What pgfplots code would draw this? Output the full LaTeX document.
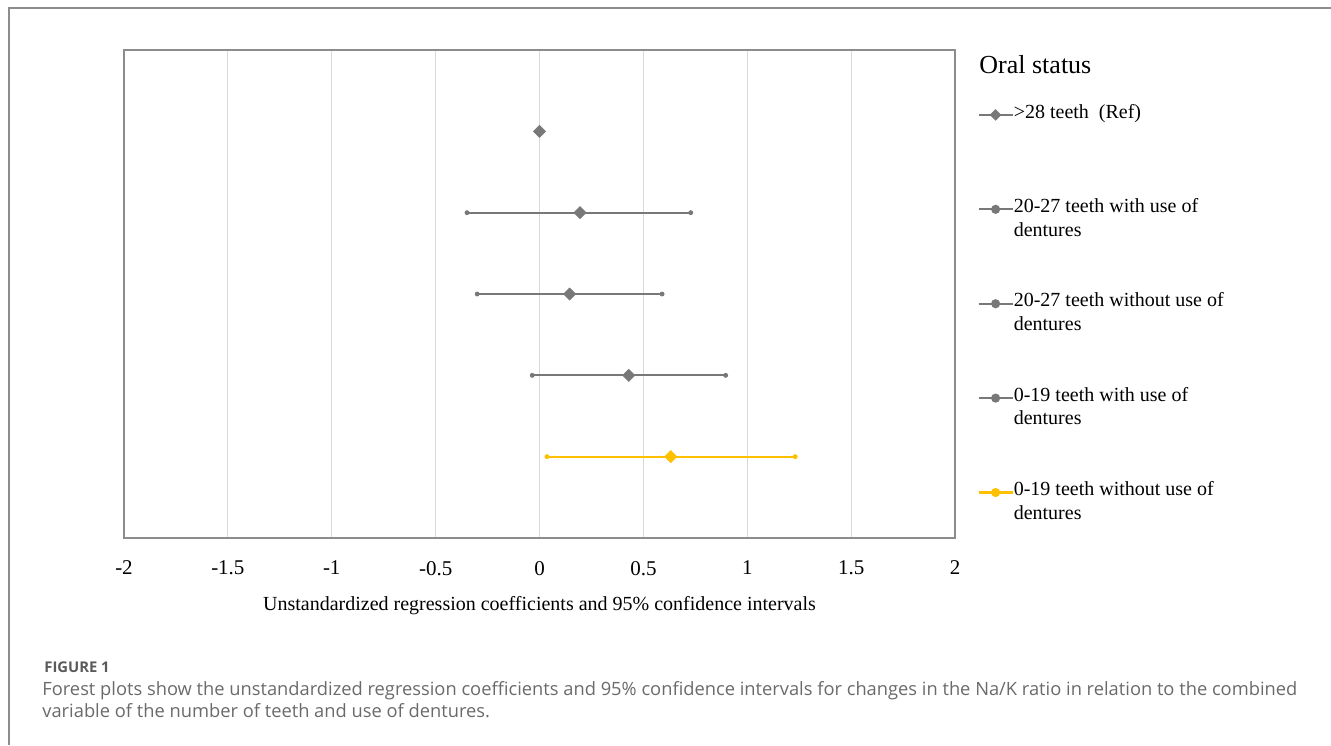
\documentclass[border=0pt]{standalone}
\usepackage{pgfplots}
\pgfplotsset{compat=1.18}
\usepackage{pgfplotstable}
\usepackage{fontspec}
\setmainfont{Liberation Serif}
\newfontfamily\capfont{Open Sans}
\definecolor{gry}{HTML}{787878}
\definecolor{gold}{HTML}{FFC000}
\definecolor{gridc}{HTML}{D9D9D9}
\definecolor{framec}{HTML}{8C8C8C}
\definecolor{capc}{HTML}{6A6A6A}

\pgfplotstableread{
y x em ep
4 0.195 0.544 0.533
3 0.145 0.445 0.445
2 0.430 0.465 0.466
}\graydata
\pgfplotstableread{
y x em ep
1 0.632 0.596 0.599
}\golddata

\begin{document}
\begin{tikzpicture}
\path[use as bounding box] (0,0) rectangle (665.5pt,-372.5pt);
\begin{axis}[
  at={(62pt,-269pt)}, anchor=south west,
  scale only axis, width=415.5pt, height=244pt,
  xmin=-2, xmax=2, ymin=0, ymax=6,
  xtick={-2,-1.5,-1,-0.5,0,0.5,1,1.5,2},
  xticklabels={-2,-1.5,-1,-0.5,0,0.5,1,1.5,2},
  ytick=\empty,
  major tick length=0pt,
  xmajorgrids, grid style={gridc, line width=0.6pt},
  axis line style={framec, line width=0.6pt},
  xticklabel style={font=\fontsize{10.5}{12}\selectfont, yshift=-8pt},
  xlabel={Unstandardized regression coefficients and 95\% confidence intervals},
  x label style={at={(axis description cs:0.5,-0.1393)}, anchor=center, font=\fontsize{10}{12}\selectfont},
  clip=false,
  legend style={at={(axis description cs:1.0265,0.892)}, anchor=north west,
    draw=none, fill=none, inner sep=0pt, row sep=0pt,
    font=\fontsize{10}{12}\selectfont,
    nodes={inner sep=0pt, text height=7.5pt, text depth=4.3pt}},
  legend cell align=left,
]
\addplot[forget plot, only marks, mark=square*, mark size=2.1pt,
  mark options={rotate=45, fill=gry, draw=gry}] coordinates {(0,5)};
\addplot[forget plot, only marks, mark=square*, mark size=2.1pt,
  mark options={rotate=45, fill=gry, draw=gry},
  error bars/.cd, x dir=both, x explicit,
  error bar style={line width=1.1pt, gry},
  error mark=*, error mark options={mark size=1pt, fill=gry, draw=gry}]
  table[x=x, y=y, x error minus=em, x error plus=ep] {\graydata};
\addplot[forget plot, only marks, mark=square*, mark size=2.1pt,
  mark options={rotate=45, fill=gold, draw=gold},
  error bars/.cd, x dir=both, x explicit,
  error bar style={line width=1.1pt, gold},
  error mark=*, error mark options={mark size=1pt, fill=gold, draw=gold}]
  table[x=x, y=y, x error minus=em, x error plus=ep] {\golddata};

\addlegendimage{gry, line width=1.1pt, mark=square*, mark size=1.5pt, mark options={rotate=45}}
\addlegendentry{>28 teeth\ \ (Ref)}
\addlegendimage{empty legend}\addlegendentry{}
\addlegendimage{empty legend}\addlegendentry{}
\addlegendimage{empty legend}\addlegendentry{}
\addlegendimage{gry, line width=1.1pt, mark=*, mark size=1.7pt}
\addlegendentry{20-27 teeth with use of}
\addlegendimage{empty legend}\addlegendentry{dentures}
\addlegendimage{empty legend}\addlegendentry{}
\addlegendimage{empty legend}\addlegendentry{}
\addlegendimage{gry, line width=1.1pt, mark=*, mark size=1.7pt}
\addlegendentry{20-27 teeth without use of}
\addlegendimage{empty legend}\addlegendentry{dentures}
\addlegendimage{empty legend}\addlegendentry{}
\addlegendimage{empty legend}\addlegendentry{}
\addlegendimage{gry, line width=1.1pt, mark=*, mark size=1.7pt}
\addlegendentry{0-19 teeth with use of}
\addlegendimage{empty legend}\addlegendentry{dentures}
\addlegendimage{empty legend}\addlegendentry{}
\addlegendimage{empty legend}\addlegendentry{}
\addlegendimage{gold, line width=1.1pt, mark=*, mark size=1.7pt}
\addlegendentry{0-19 teeth without use of}
\addlegendimage{empty legend}\addlegendentry{dentures}
\end{axis}
\begin{scope}[x=0.5pt, y=-0.5pt]
\draw[framec, line width=0.7pt] (9,745) -- (9,8) -- (1331,8);
\node[anchor=base west, inner sep=0pt, font=\fontsize{13}{15}\selectfont] at (979,73.3) {Oral status};
\node[anchor=base west, inner sep=0pt, text=capc!85!black, font=\capfont\bfseries\fontsize{7.4}{9}\selectfont] at (44,672) {FIGURE 1};
\node[anchor=base west, inner sep=0pt, text=capc, font=\capfont\fontsize{9.15}{11}\selectfont] at (42,695.7) {Forest plots show the unstandardized regression coefficients and 95\% confidence intervals for changes in the Na/K ratio in relation to the combined};
\node[anchor=base west, inner sep=0pt, text=capc, font=\capfont\fontsize{9.15}{11}\selectfont] at (42,717.7) {variable of the number of teeth and use of dentures.};
\end{scope}
\end{tikzpicture}
\end{document}
